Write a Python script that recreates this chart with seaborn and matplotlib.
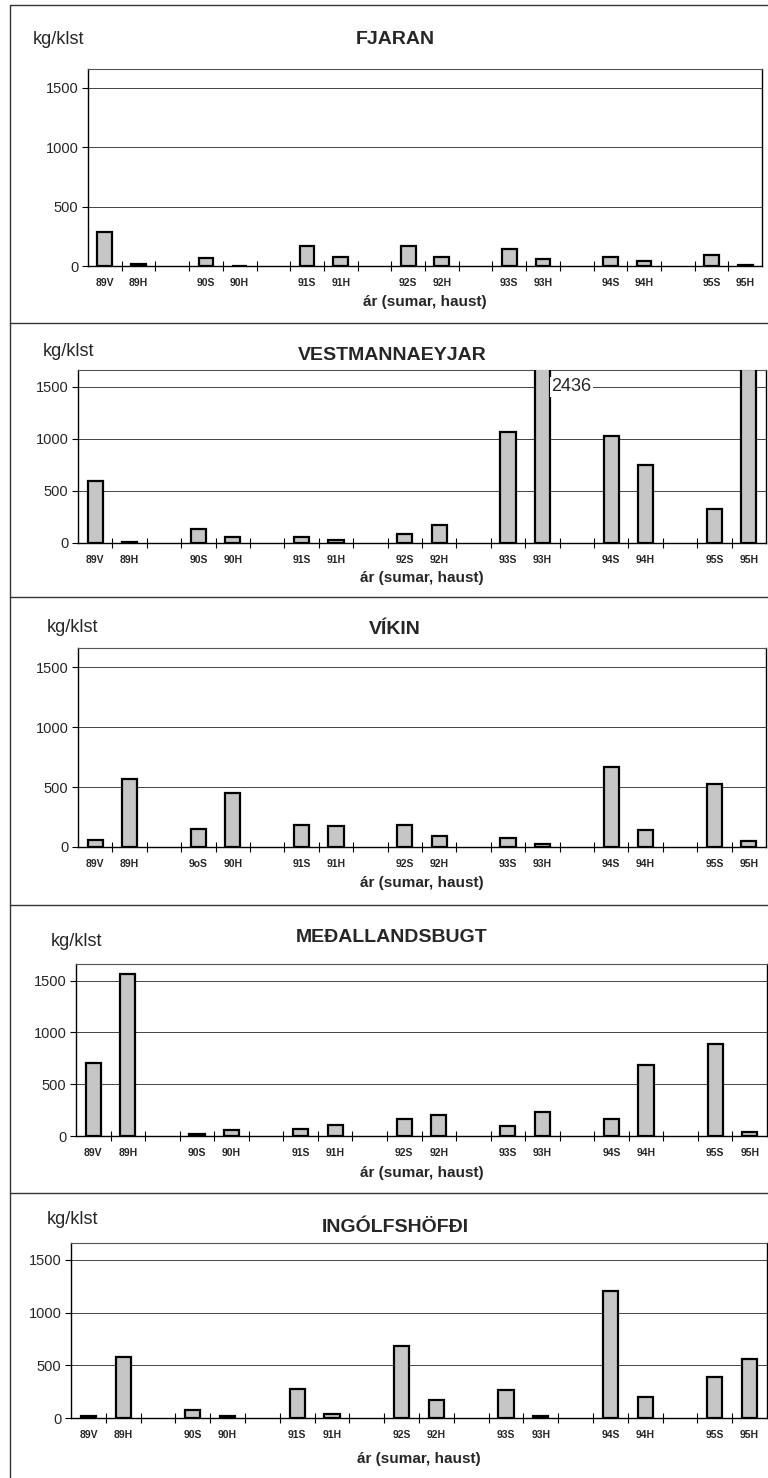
import numpy as np
import pandas as pd
import matplotlib
matplotlib.use("Agg")
import matplotlib.pyplot as plt
from matplotlib.lines import Line2D
import seaborn as sns

sns.set_style("white")
plt.rcParams["font.family"] = ["Liberation Sans", "DejaVu Sans"]

# periods (year + season), two per year with an empty slot between years
periods = ["89V", "89H", "90S", "90H", "91S", "91H", "92S", "92H",
           "93S", "93H", "94S", "94H", "95S", "95H"]
periods_vikin = ["89V", "89H", "9oS", "90H", "91S", "91H", "92S", "92H",
                 "93S", "93H", "94S", "94H", "95S", "95H"]
slots = [0, 1, 3, 4, 6, 7, 9, 10, 12, 13, 15, 16, 18, 19]

titles = ["FJARAN", "VESTMANNAEYJAR", "VÍKIN", "MEÐALLANDSBUGT", "INGÓLFSHÖFÐI"]

fjaran = [285, 15, 70, 3, 168, 80, 168, 80, 140, 62, 80, 40, 90, 10]
vestm = [592, 12, 135, 55, 55, 30, 87, 176, 1062, 2436, 1022, 748, 322, 1668]
vikin = [55, 564, 153, 453, 186, 178, 186, 94, 75, 28, 667, 144, 528, 50]
medal = [705, 1562, 22, 61, 71, 103, 168, 206, 100, 232, 168, 690, 890, 39]
ingolf = [22, 581, 73, 22, 276, 35, 683, 175, 264, 15, 1204, 200, 388, 562]

values = [fjaran, vestm, vikin, medal, ingolf]
labels = [periods, periods, periods_vikin, periods, periods]

W, H = 768, 1478
fig = plt.figure(figsize=(W / 100, H / 100), dpi=100)

# panel geometry in pixels: left, zero line, top, right
rects = [(88, 266, 69, 762), (78, 543, 370, 766), (78, 847, 648, 766),
         (76, 1136, 964, 767), (71, 1418, 1243, 767)]
# y of ylabel, title, xlabel
text_y = [(39, 39, 302), (352, 355, 578), (627, 630, 883),
          (942, 938, 1173), (1220, 1227, 1459)]
kg_x = [33, 43, 47, 51, 47]
title_x = [395, 392, 395, 392, 395]
ymax = 1660

for i in range(5):
    l, b, t, r = rects[i]
    ax = fig.add_axes([l / W, 1 - b / H, (r - l) / W, (b - t) / H])
    df = pd.DataFrame({"pos": slots, "value": values[i]})
    sns.barplot(data=df, x="pos", y="value", native_scale=True, width=0.44,
                color="#c6c6c6", saturation=1, edgecolor="black", linewidth=1.6,
                errorbar=None, ax=ax, zorder=3)
    ax.set_xlim(-0.5, 19.5)
    ax.set_ylim(0, ymax)
    ax.set_yticks([0, 500, 1000, 1500])
    ax.set_yticklabels(["0", "500", "1000", "1500"], fontsize=10.5)
    ax.set_xticks(slots)
    ax.set_xticklabels(labels[i], fontsize=7.5, fontweight="bold")
    ax.set_xticks(np.arange(0.5, 19, 1), minor=True)
    ax.tick_params(axis="x", which="major", length=0, pad=8.5)
    ax.tick_params(axis="x", which="minor", bottom=True, length=7,
                   direction="inout", width=0.8, color="black")
    ax.tick_params(axis="y", length=4, width=0.8, direction="out", left=True,
                   pad=3, color="black")
    for y in [500, 1000, 1500]:
        ax.axhline(y, color="#444444", lw=0.7, zorder=1)
    ax.set_xlabel("")
    ax.set_ylabel("")
    ax.spines["top"].set_linestyle((0, (2, 1)))
    ax.spines["top"].set_color("#555555")
    for s in ["left", "bottom", "right"]:
        ax.spines[s].set_color("black")
        ax.spines[s].set_linewidth(1.0)
    ax.spines["top"].set_linewidth(0.8)

    ky, ty, xly = text_y[i]
    fig.text(kg_x[i] / W, 1 - ky / H, "kg/klst", fontsize=13, va="center", ha="left")
    fig.text(title_x[i] / W, 1 - ty / H, titles[i], fontsize=14, fontweight="bold",
             va="center", ha="center")
    fig.text((l + r) / 2 / W, 1 - xly / H, "ár (sumar, haust)", fontsize=11,
             fontweight="bold", va="center", ha="center")

    if i == 1:
        ax.text(13.25, 1500, "2436", fontsize=13, va="center", ha="left", zorder=4,
                bbox=dict(facecolor="white", edgecolor="none", pad=1))

# panel frames
for y in [5, 323, 597, 905, 1193]:
    fig.add_artist(Line2D([10 / W, 1], [1 - y / H, 1 - y / H], color="#333333", lw=1.0))
fig.add_artist(Line2D([10 / W, 10 / W], [0, 1 - 5 / H], color="#333333", lw=1.0))

fig.savefig("out.png", dpi=100)
